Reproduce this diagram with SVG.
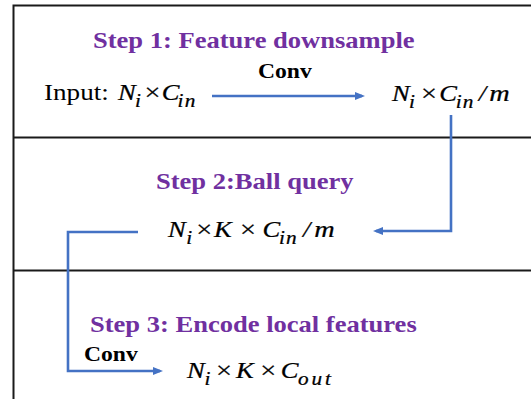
<svg xmlns="http://www.w3.org/2000/svg" width="531" height="399" viewBox="0 0 531 399">
<style>
.frame{stroke:#1a1a1a;stroke-width:2;fill:none}
.conn{stroke:#4472C4;stroke-width:2.6;fill:none}
text{font-family:'Liberation Serif','DejaVu Serif',serif}
.title{font-weight:bold;font-size:22.5px;fill:#7030A0}
.lbl{font-weight:bold;font-size:20px;fill:#000}
.txt{font-size:23px;fill:#000}
.m{font-style:italic;font-size:22.5px;fill:#000;stroke:#000;stroke-width:0.25}
.op{font-style:normal;font-size:24px}
.big{font-size:24px}
.sub{font-size:18px;letter-spacing:1px}
.subw{font-size:18px;letter-spacing:2.5px}
</style>
<defs>
<marker id="ah" markerWidth="10" markerHeight="8" refX="7" refY="4" orient="auto" markerUnits="userSpaceOnUse">
<path d="M0,0 L10,4 L0,8 z" fill="#4472C4"/>
</marker>
</defs>
<rect width="531" height="399" fill="#fff"/>
<g id="frame">
<path class="frame" d="M13.5,399 V5.5 H531"/>
<path class="frame" d="M13.5,137.5 H531"/>
<path class="frame" d="M13.5,270.5 H531"/>
</g>
<g id="connectors">
<path class="conn" d="M212,96 H362" marker-end="url(#ah)"/>
<path class="conn" d="M451,115 V231 H376" marker-end="url(#ah)"/>
<path class="conn" d="M138,232 H68 V371 H160" marker-end="url(#ah)"/>
<text class="lbl" transform="translate(258,78) scale(1.18,1)">Conv</text>
<text class="lbl" transform="translate(84,361) scale(1.18,1)">Conv</text>
</g>
<g id="step1">
<text class="title" transform="translate(93,48) scale(1.18,1)">Step 1: Feature downsample</text>
</g>
<g id="node-input">
<text class="txt" transform="translate(44,100) scale(1.18,1)">Input:</text>
<text class="m" transform="translate(118,100) scale(1.18,1)"><tspan x="0" y="0">N</tspan><tspan class="sub" x="14.5" y="7">i</tspan><tspan class="op" x="22.5" y="0">×</tspan><tspan x="37" y="0">C</tspan><tspan class="sub" x="50.5" y="7">in</tspan></text>
</g>
<g id="node-downsampled">
<text class="m" transform="translate(392,101) scale(1.18,1)"><tspan x="0" y="0">N</tspan><tspan class="sub" x="14.5" y="7">i</tspan><tspan class="op" x="24.5" y="0">×</tspan><tspan x="40" y="0">C</tspan><tspan class="sub" x="54" y="7">in</tspan><tspan x="73.5" y="0">/</tspan><tspan class="big" x="82.5" y="0">m</tspan></text>
</g>
<g id="step2">
<text class="title" transform="translate(156,189) scale(1.18,1)">Step 2:Ball query</text>
</g>
<g id="node-ballquery">
<text class="m" transform="translate(168,237) scale(1.18,1)"><tspan x="0" y="0">N</tspan><tspan class="sub" x="15.5" y="7">i</tspan><tspan class="op" x="24" y="0">×</tspan><tspan x="39" y="0">K</tspan><tspan class="op" x="61" y="0">×</tspan><tspan x="80" y="0">C</tspan><tspan class="sub" x="94" y="7">in</tspan><tspan x="114.5" y="0">/</tspan><tspan class="big" x="124" y="0">m</tspan></text>
</g>
<g id="step3">
<text class="title" transform="translate(90,332) scale(1.18,1)">Step 3: Encode local features</text>
</g>
<g id="node-output">
<text class="m" transform="translate(187,378) scale(1.18,1)"><tspan x="0" y="0">N</tspan><tspan class="sub" x="14.8" y="7">i</tspan><tspan class="op" x="24.5" y="0">×</tspan><tspan x="41.5" y="0">K</tspan><tspan class="op" x="62" y="0">×</tspan><tspan x="79.5" y="0">C</tspan><tspan class="subw" x="94" y="7">out</tspan></text>
</g>
</svg>
